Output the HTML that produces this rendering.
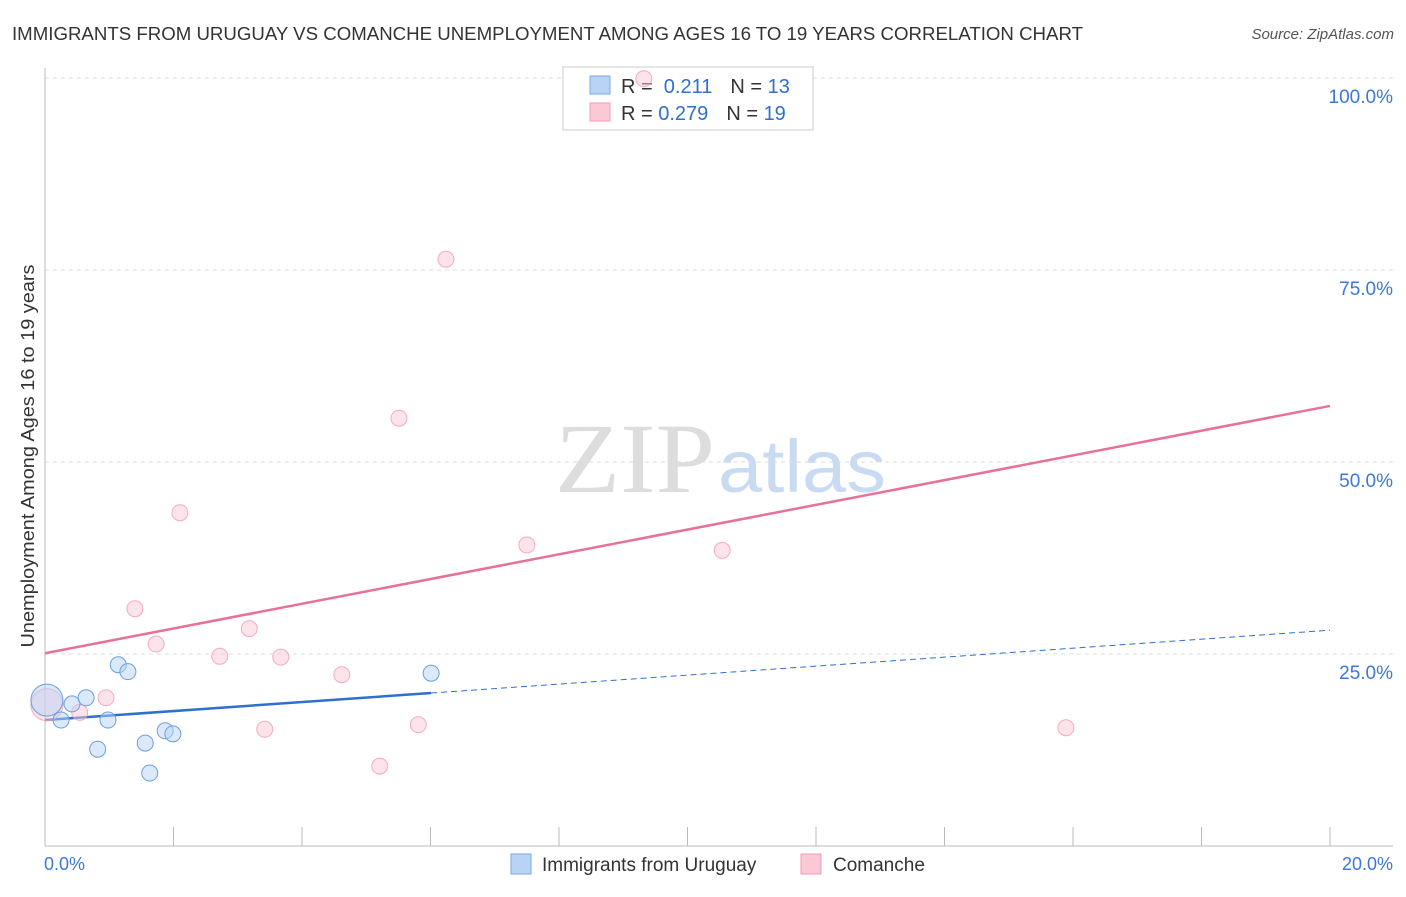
<!DOCTYPE html>
<html><head><meta charset="utf-8"><style>
body{margin:0;background:#fff;font-family:"Liberation Sans",sans-serif}
svg text{font-family:"Liberation Sans",sans-serif}
</style></head><body>
<svg id="c" width="1406" height="892" xmlns="http://www.w3.org/2000/svg">
<text x="12" y="40" font-size="18" fill="#333" textLength="1071" lengthAdjust="spacingAndGlyphs">IMMIGRANTS FROM URUGUAY VS COMANCHE UNEMPLOYMENT AMONG AGES 16 TO 19 YEARS CORRELATION CHART</text>
<text x="1394" y="39" font-size="15" fill="#555" text-anchor="end" font-style="italic">Source: ZipAtlas.com</text>
<text x="34" y="456" font-size="18" fill="#333" text-anchor="middle" textLength="383" lengthAdjust="spacingAndGlyphs" transform="rotate(-90 34 456)">Unemployment Among Ages 16 to 19 years</text>
<text x="555" y="492" font-size="100" fill="#ddd" textLength="160" lengthAdjust="spacingAndGlyphs" style="font-family:'Liberation Serif',serif">ZIP</text>
<text x="718" y="492" font-size="74" fill="#c9daf3" textLength="168" lengthAdjust="spacingAndGlyphs">atlas</text>
<g id="grid"></g><g id="axes"></g>
<g>
<rect x="563" y="67" width="250" height="63" fill="#fff" stroke="#ccc"/>
<rect x="590" y="76" width="20" height="18" fill="#b8d3f5" stroke="#7aaae0"/>
<rect x="590" y="103" width="20" height="18" fill="#fbc8d6" stroke="#f09ab4"/>
<text x="621" y="93" font-size="20" fill="#333">R = <tspan fill="#2f6fcf">&#160;0.211</tspan><tspan dx="18" fill="#333">N = </tspan><tspan fill="#2f6fcf">13</tspan></text>
<text x="621" y="120" font-size="20" fill="#333">R = <tspan fill="#2f6fcf">0.279</tspan><tspan dx="18" fill="#333">N = </tspan><tspan fill="#2f6fcf">19</tspan></text>
</g>
<g id="lines"></g><g id="pts"></g>
<g>
<rect x="511" y="854" width="20" height="20" fill="#b8d3f5" stroke="#7aaae0"/>
<text x="542" y="871" font-size="19" fill="#333">Immigrants from Uruguay</text>
<rect x="801" y="854" width="20" height="20" fill="#fbc8d6" stroke="#f09ab4"/>
<text x="833" y="871" font-size="19" fill="#333">Comanche</text>
</g>
<text x="44" y="870" font-size="18" fill="#3b78d8">0.0%</text>
<text x="1393" y="870" font-size="18" fill="#3b78d8" text-anchor="end">20.0%</text>
</svg>
<script>
const yTicks=[25,50,75,100];
const yTickLabels=["25.0%","50.0%","75.0%","100.0%"];
const blueX=[0.03,0.25,0.42,0.64,0.82,0.98,1.14,1.29,1.56,1.63,1.87,1.99,6.01];
const blueY=[19.0,16.4,18.5,19.3,12.6,16.4,23.6,22.7,13.4,9.5,15.0,14.6,22.5];
const pinkX=[0.03,0.54,0.95,1.40,1.73,2.10,2.72,3.18,3.42,3.67,4.62,5.21,5.51,5.81,6.24,7.50,9.32,10.54,15.89];
const pinkY=[18.4,17.4,19.3,30.9,26.3,43.4,24.7,28.3,15.2,24.6,22.3,10.4,55.7,15.8,76.4,39.2,99.9,38.5,15.4];
const blueTrend=[16.4,28.1];
const pinkTrend=[25.1,57.3];
const NS="http://www.w3.org/2000/svg";
const X=v=>45+v*64.25, Y=v=>846-v*7.68;
function mk(p,t,a){const e=document.createElementNS(NS,t);for(const k in a)e.setAttribute(k,a[k]);document.getElementById(p).appendChild(e);return e;}
yTicks.forEach((t,i)=>{
 const g=mk('grid','line',{x1:45,x2:1393,y1:Y(t),y2:Y(t),stroke:'#ddd','stroke-dasharray':'4,4'});
 
 
 const l=mk('grid','text',{x:1393,y:Y(t)+25,'font-size':19,fill:'#3b78d8','text-anchor':'end'});
 l.textContent=yTickLabels[i];
 
 
});
const ax=mk('axes','line',{x1:45,x2:45,y1:68,y2:846,stroke:'#bbb'});


const bx=mk('axes','line',{x1:45,x2:1393,y1:846,y2:846,stroke:'#bbb'});


for(let i=1;i<=10;i++){const t=mk('axes','line',{x1:X(i*2),x2:X(i*2),y1:827,y2:846,stroke:'#bbb'});
 
 }
const bmax=Math.max(...blueX);
const yb=x=>blueTrend[0]+(blueTrend[1]-blueTrend[0])*x/20;
const l1=mk('lines','line',{x1:X(0),y1:Y(yb(0)),x2:X(bmax),y2:Y(yb(bmax)),stroke:'#2f6fcf','stroke-width':2.5});


const l2=mk('lines','line',{x1:X(bmax),y1:Y(yb(bmax)),x2:X(20),y2:Y(yb(20)),stroke:'#2f6fcf','stroke-width':1,'stroke-dasharray':'6,4'});


const l3=mk('lines','line',{x1:X(0),y1:Y(pinkTrend[0]),x2:X(20),y2:Y(pinkTrend[1]),stroke:'#e8709a','stroke-width':2.5});


pinkX.forEach((x,i)=>{const c=mk('pts','circle',{cx:X(x),cy:Y(pinkY[i]),r:i==0?16:8,fill:'rgba(251,200,214,0.5)',stroke:'#f09ab4','stroke-width':1,'stroke-opacity':0.8});
 
 });
blueX.forEach((x,i)=>{const c=mk('pts','circle',{cx:X(x),cy:Y(blueY[i]),r:i==0?16:8,fill:'rgba(184,211,245,0.5)',stroke:'#6a9fe0','stroke-width':1});
 
 });
</script>
</body></html>
